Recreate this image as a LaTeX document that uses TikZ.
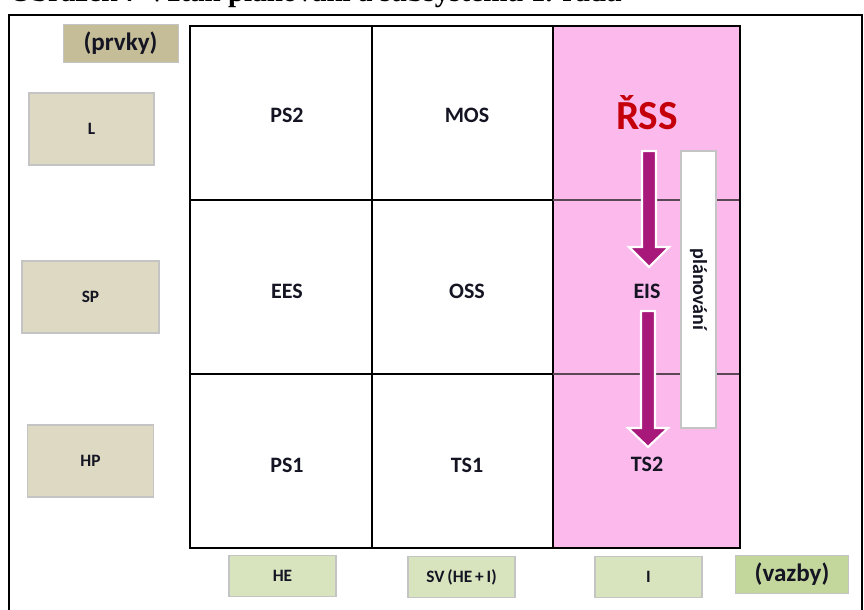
\documentclass[tikz,border=0pt]{standalone}
\usepackage{fontspec}
\setmainfont{Carlito}
\newfontfamily\capfont{Liberation Serif}
\definecolor{tanfill}{RGB}{221,217,195}
\definecolor{tandark}{RGB}{196,189,151}
\definecolor{greenfill}{RGB}{215,228,189}
\definecolor{greendark}{RGB}{195,214,155}
\definecolor{boxedge}{RGB}{196,196,196}
\definecolor{pinkcol}{RGB}{251,185,236}
\definecolor{magarrow}{RGB}{168,24,122}
\definecolor{rssred}{RGB}{196,0,10}
\definecolor{labelink}{RGB}{20,20,35}
\definecolor{rowline}{RGB}{90,70,85}
\tikzset{
  lbl/.style={font=\bfseries\fontsize{16.5}{18}\selectfont, text=labelink, inner sep=0pt},
  sidelbl/.style={font=\bfseries\fontsize{13}{15}\selectfont, text=labelink},
  tanbox/.style={sidelbl, fill=tanfill, draw=boxedge, line width=0.8pt, inner sep=0pt},
  greenbox/.style={sidelbl, fill=greenfill, draw=boxedge, line width=0.8pt, inner sep=0pt,
    minimum width=107*.75pt, minimum height=41*.75pt},
  headbox/.style={font=\bfseries\fontsize{18.8}{20}\selectfont, text=labelink,
    draw=boxedge, line width=0.6pt, inner sep=0pt},
  blockarrow/.style={fill=magarrow, draw=white, line width=1.6pt, line join=miter},
}
\begin{document}
\begin{tikzpicture}[x=0.75pt,y=-0.75pt]
\useasboundingbox (0,0) rectangle (864,610);

% caption above the frame
\node[font=\capfont\bfseries\fontsize{21.8}{24}\selectfont, anchor=base west, inner sep=0pt]
  (caption) at (9,1.5) {Obrázek 7 Vztah plánování a subsystémů 1. řádu};

% outer frame
\draw[line width=1.6pt] (9,620) -- (9,15) -- (862,15) -- (862,620);

% the 3x3 matrix, third column shaded
\fill[pinkcol] (553,26) rectangle (740,548);
\draw[line width=0.9pt] (372,26) -- (372,548);
\draw[line width=0.9pt] (553,26) -- (553,548);
\draw[line width=0.9pt] (190,200) -- (553,200);
\draw[line width=0.9pt] (190,374) -- (553,374);
\draw[line width=0.9pt, rowline] (553,200) -- (740,200);
\draw[line width=0.9pt, rowline] (553,374) -- (740,374);
\draw[line width=1.9pt] (190,26) rectangle (740,548);

% cell labels
\node[lbl] (ps2) at (287,115) {PS2};
\node[lbl] (mos) at (467,115) {MOS};
\node[font=\bfseries\fontsize{31}{34}\selectfont, text=rssred, inner sep=0pt, anchor=base]
  (rss) at (647,129) {ŘSS};
\node[lbl] (ees) at (287,291) {EES};
\node[lbl] (oss) at (467,291) {OSS};
\node[lbl] (eis) at (647,291) {EIS};
\node[lbl] (ps1) at (287,465) {PS1};
\node[lbl] (ts1) at (467,465) {TS1};
\node[lbl] (ts2) at (647,464) {TS2};

% planning strip
\node[fill=white, draw=boxedge, line width=0.8pt, minimum width=35*.75pt,
  minimum height=277*.75pt, inner sep=0pt] (planstrip) at (698.5,289.5) {};
\node[font=\bfseries\fontsize{15}{17}\selectfont, text=labelink, rotate=-90, inner sep=0pt]
  (plan) at (planstrip.center) {plánování};

% block arrows ŘSS -> EIS -> TS2
\draw[blockarrow] (642,151) -- (656,151) -- (656,247) -- (669,247) -- (649,267)
  -- (629,247) -- (642,247) -- cycle;
\draw[blockarrow] (641,311) -- (655,311) -- (655,428) -- (668,428) -- (648,447)
  -- (628,428) -- (641,428) -- cycle;

% element axis (left)
\node[headbox, fill=tandark, minimum width=115*.75pt, minimum height=38*.75pt]
  (prvky) at (120.5,43.5) {(prvky)};
\node[tanbox, minimum width=125*.75pt, minimum height=72*.75pt] (L) at (91.5,129) {L};
\node[tanbox, minimum width=137*.75pt, minimum height=72*.75pt] (SP) at (90.5,297) {SP};
\node[tanbox, minimum width=126*.75pt, minimum height=72*.75pt] (HP) at (90.5,461) {HP};

% relation axis (bottom)
\node[greenbox] (HE) at (282.5,576) {HE};
\node[greenbox] (SV) at (461.5,577) {SV\,(HE\,+\,I)};
\node[greenbox] (I) at (648.5,577) {I};
\node[headbox, fill=greendark, minimum width=113*.75pt, minimum height=38*.75pt]
  (vazby) at (792,574) {(vazby)};
\end{tikzpicture}
\end{document}
